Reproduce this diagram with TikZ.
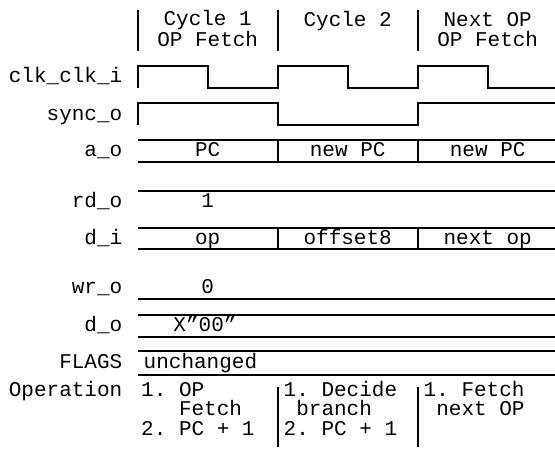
\documentclass[tikz,border=0pt]{standalone}
\usepackage{fontspec}
\setmonofont{Liberation Mono}
\tikzset{
  txt/.style={font=\ttfamily\frenchspacing\fontsize{21}{19.2}\selectfont,inner sep=0pt},
  wave/.style={line width=2.2pt}
}
\begin{document}
\begin{tikzpicture}[x=1pt,y=-1pt]
\useasboundingbox (0,0) rectangle (555,450);

% header (base anchor sits on the last line)
\foreach \x in {137.7,277.7,417.7}
  \draw[wave] (\x,10) -- (\x,50.7);
\begin{scope}[every node/.style={txt,align=center,anchor=base}]
\node (cyc1) at (207.7,46) {Cycle 1\\OP Fetch};
\node (cyc2) at (347.7,26.7) {Cycle 2};
\node (cyc3) at (487.7,46) {Next OP\\OP Fetch};
\end{scope}

% signal names
\begin{scope}[every node/.style={txt,anchor=base east}]
\node (clk) at (122.5,82.7) {clk\_clk\_i};
\node (sync) at (122.5,120) {sync\_o};
\node (ao) at (122.5,156.7) {a\_o};
\node (rdo) at (122.5,207) {rd\_o};
\node (di) at (122.5,244.3) {d\_i};
\node (wro) at (122.5,293.3) {wr\_o};
\node (do) at (122.5,331.7) {d\_o};
\node (flags) at (122.5,368.3) {FLAGS};
\node (oper) at (122.5,396.7) {Operation};
\end{scope}

% clk and sync
\draw[wave] (137.7,88.3) -- (137.7,66) -- (208,66) -- (208,88.3) -- (277.7,88.3)
  -- (277.7,66) -- (348,66) -- (348,88.3) -- (417.7,88.3) -- (417.7,66)
  -- (488,66) -- (488,88.3) -- (555,88.3);
\draw[wave] (137.7,125) -- (137.7,103.3) -- (277.7,103.3) -- (277.7,125)
  -- (417.7,125) -- (417.7,103.3) -- (555,103.3);

% busses
\foreach \ya/\yb in {140/162.3,228.3/249.3,315/336.7,350.7/375}
  \draw[wave] (137.7,\ya) -- (555,\ya) (137.7,\yb) -- (555,\yb);
\foreach \x in {277.7,417.7}
  \draw[wave] (\x,140) -- (\x,162.3) (\x,228.3) -- (\x,249.3);
\draw[wave] (137.7,191) -- (555,191);
\draw[wave] (137.7,299.3) -- (555,299.3);

% values
\begin{scope}[every node/.style={txt,anchor=base}]
\node (pc) at (207.7,156.7) {PC};
\node (npc1) at (347.7,156.7) {new PC};
\node (npc2) at (487.7,156.7) {new PC};
\node (rd1) at (207.7,207) {1};
\node (op) at (207.7,244.3) {op};
\node (off) at (347.7,244.3) {offset8};
\node (nop) at (487.7,244.3) {next op};
\node (wr0) at (207.7,293.3) {0};
\node (dx) at (205,331.7) {X”00”};
\node[anchor=base west] (unch) at (143.5,368.3) {unchanged};
\end{scope}

% operation
\foreach \x in {277.7,417.7}
  \draw[wave] (\x,387.3) -- (\x,446.7);
\begin{scope}[every node/.style={txt,align=left,anchor=base west}]
\node (op1) at (141,435.1) {1. OP\\\phantom{1. }Fetch\\2. PC + 1};
\node (op2) at (283.5,435.1) {1. Decide\\\phantom{1}branch\\2. PC + 1};
\node (op3) at (423.5,415.9) {1. Fetch\\\phantom{1}next OP};
\end{scope}
\end{tikzpicture}
\end{document}
